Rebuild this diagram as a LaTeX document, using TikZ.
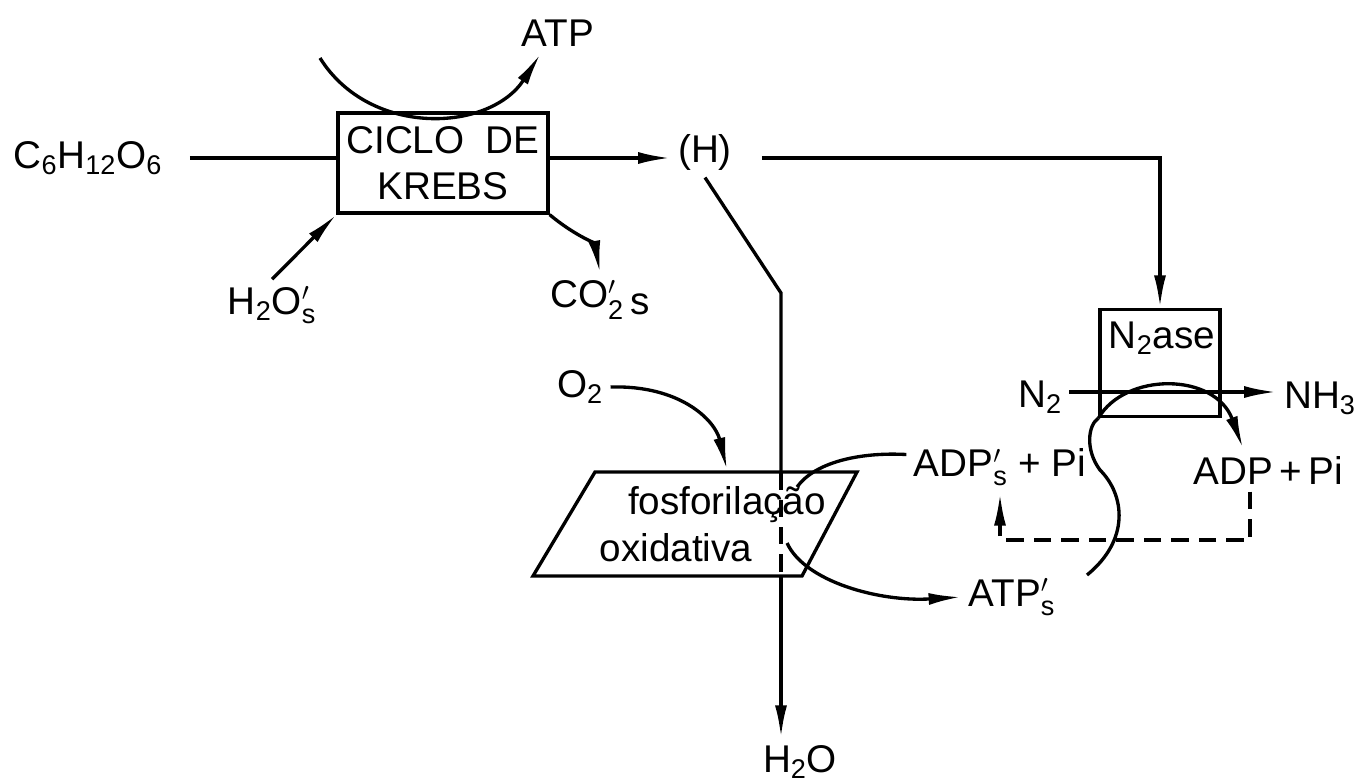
\documentclass[tikz,border=0pt]{standalone}
\usepackage{fontspec}
\usepackage{amsmath}
\setmainfont{Liberation Sans}
\usetikzlibrary{arrows.meta,positioning}
\newcommand{\primesub}{$^{\prime}_{\text{s}}$}

\begin{document}
\begin{tikzpicture}[x=0.02cm,y=-0.02cm,
    line width=1.9pt,
    font=\fontsize{22}{26}\selectfont,
    enzyme/.style ={draw, line width=1.9pt, inner sep=0pt},
    flow/.style ={-{Latex[length=0.65cm,width=0.24cm]}},
    feedback/.style ={dashed, dash pattern=on 0.35cm off 0.2cm}]
   \useasboundingbox (0,0) rectangle (1359,782);
   % Krebs
   \node (glc) at (88,158) {C\textsubscript{6}H\textsubscript{12}O\textsubscript{6}};
   \node[enzyme, minimum width=4.2cm, minimum height=2cm, align=center] (krebs) at (443,163) {CICLO\ \ DE\\KREBS};
   \node (atp) at (558,33) {ATP};
   \node (h) at (705,152) {(H)};
   \node (h2os) at (272,305) {H\textsubscript{2}O\primesub};
   \node (co2s) at (600,300) {CO$^{\prime}_{\text{2}}$\,\raisebox{-0.3ex}{s}};
   \coordinate (atpin) at (320,58);
   \draw[shorten <=0.4cm] (glc.east) to (krebs.west |- glc.east);
   \draw[flow] (krebs.east |- glc.east) to (h.west |- glc.east);
   \draw[flow] (atpin) .. controls (370,138) and (490,132) .. ([xshift=-0.35cm]atp.south);
   \draw[flow] (h2os.north) to (krebs.south west);
   \draw[flow] (krebs.south east) to[out=-40,in=100] (co2s.north);
   % fosforilacao oxidativa
   \coordinate (ptl) at (595,472);
   \coordinate (ptr) at (857,472);
   \coordinate (pbr) at (802,576);
   \coordinate (pbl) at (533,576);
   \draw (ptl) -- (ptr) -- (pbr) -- (pbl) -- cycle;
   \node (fosf) at (727,505) {fosforilação};
   \node (oxid) at (676,548) {oxidativa};
   \node (o2) at (580,387) {O\textsubscript{2}};
   \node (adps) at (1000,467) {ADP\primesub\ + Pi};
   \node (atps) at (1012,597) {ATP\primesub};
   \node (h2o) at (800,762) {H\textsubscript{2}O};
   \coordinate (hbend) at (781,293);
   \coordinate (htop) at (781,472);
   \coordinate (hbot) at (781,576);
   \coordinate (atpout) at (787,543);
   \draw (h.south) -- (hbend) -- (htop);
   \draw[feedback] (htop) -- (hbot);
   \draw[flow] (hbot) -- (h2o.north -| hbot);
   \draw[flow] (o2.east) .. controls (680,385) and (715,420) .. (727,470);
   \draw ([yshift=0.25cm]adps.west) .. controls (860,452) and (815,462) .. (797,487);
   \draw[flow] (atpout) .. controls (805,582) and (880,602) .. (atps.west);
   % nitrogenase
   \node[enzyme, minimum width=2.4cm, minimum height=2.14cm] (n2ase) at (1160,363) {};
   \node (n2asel) at (1162,338) {N\textsubscript{2}ase};
   \node (n2) at (1040,397) {N\textsubscript{2}};
   \node (nh3) at (1320,398) {NH\textsubscript{3}};
   \node (adpr) at (1268,470) {ADP\,+\,Pi};
   \coordinate (sstart) at (1087,575);
   \draw[flow, shorten <=0.45cm] (h.east |- glc.east) -| (n2ase.north);
   \draw[flow] ([yshift=0.1cm]n2.east) -- ([yshift=0.1cm]n2.east -| nh3.west);
   \draw[flow] (n2ase.south west) .. controls (1125,372) and (1215,372) .. ([xshift=-0.5cm]adpr.north);
   \draw (sstart) .. controls (1130,540) and (1125,495) .. (1100,470) .. controls (1085,450) and (1088,425) .. (n2ase.south west);
   \draw[feedback, flow] ([xshift=-0.36cm]adpr.south) |- (1100,540) -| (adps.south);
\end{tikzpicture}
\end{document}
